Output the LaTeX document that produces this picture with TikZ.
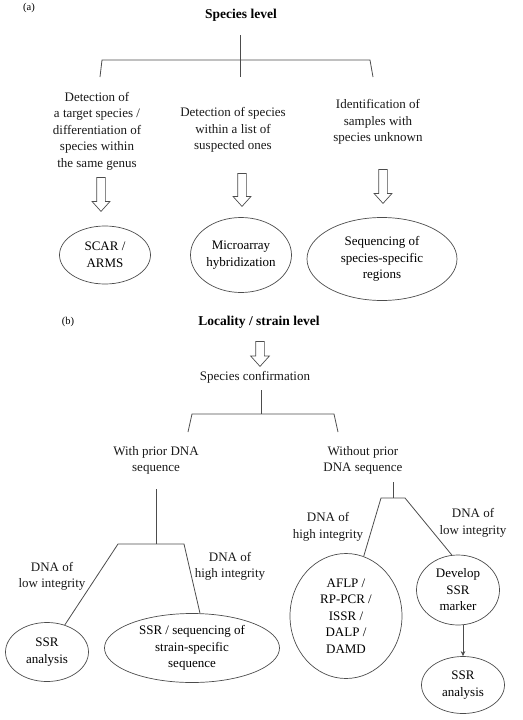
\documentclass[tikz,border=0pt]{standalone}
\usepackage{fontspec}
\setmainfont{Liberation Serif}
\usetikzlibrary{shapes.geometric,shapes.arrows,arrows.meta}

\begin{document}
\begin{tikzpicture}[x=1pt, y=-1pt,
        txt/.style={align=center, inner sep=0pt, text=black!90, font=\fontsize{13}{16.5}\selectfont},
        head/.style={inner sep=0pt, font=\fontsize{13.5}{16}\selectfont\bfseries},
        tag/.style={inner sep=0pt, font=\fontsize{10.5}{12}\selectfont},
        oval/.style={draw=black!70, line width=0.7pt, ellipse, inner sep=0pt, align=center, font=\fontsize{13}{16.5}\selectfont},
        hollow/.style={draw=black!70, line width=0.7pt, single arrow, shape border rotate=270, inner sep=4pt,
            single arrow head extend=4.5, single arrow tip angle=84},
        tree/.style={draw=black!70, line width=0.8pt}]
        \useasboundingbox (0,0) rectangle (522,720);

        % Nodes, part (a)
        \node (tag_a) [tag] at (29,8) {(a)};
        \node (species) [head] at (241,15) {Species level};
        \node (target) [txt] at (97,131) {Detection of\\a target species /\\differentiation of\\species within\\the same genus};
        \node (list) [txt] at (233,130) {Detection of species\\within a list of\\suspected ones};
        \node (unknown) [txt] at (378,122) {Identification of\\samples with\\species unknown};
        \node (arr_target) [hollow, minimum height=34] at (101,192) {};
        \node (arr_list) [hollow, minimum height=33] at (242,187.5) {};
        \node (arr_unknown) [hollow, minimum height=34] at (383,184) {};
        \node (scar) [oval, minimum width=91, minimum height=58] at (105,255) {SCAR /\\ARMS};
        \node (micro) [oval, minimum width=101, minimum height=75] at (241,255) {Microarray\\hybridization};
        \node (seqspec) [oval, minimum width=150, minimum height=83] at (382,259) {Sequencing of\\species-specific\\regions};

        % Nodes, part (b)
        \node (tag_b) [tag] at (68,322) {(b)};
        \node (locality) [head] at (259,322) {Locality / strain level};
        \node (arr_locality) [hollow, minimum height=25, single arrow head extend=5] at (260,351.5) {};
        \node (confirm) [txt] at (255,377) {Species confirmation};
        \node (withprior) [txt] at (156,460.5) {With prior DNA\\sequence};
        \node (noprior) [txt] at (363,460.5) {Without prior\\DNA sequence};
        \node (low_w) [txt] at (52,576.5) {DNA of\\low integrity};
        \node (high_w) [txt] at (230,566.5) {DNA of\\high integrity};
        \node (high_n) [txt] at (328,527) {DNA of\\high integrity};
        \node (low_n) [txt] at (473,523) {DNA of\\low integrity};
        \node (ssr_w) [oval, minimum width=83, minimum height=59] at (47,652) {SSR\\analysis};
        \node (strainseq) [oval, minimum width=175, minimum height=69] at (192,648) {SSR / sequencing of\\strain-specific\\sequence};
        \node (aflp) [oval, minimum width=112, minimum height=125] at (346,616) {AFLP /\\RP-PCR /\\ISSR /\\DALP /\\DAMD};
        \node (develop) [oval, minimum width=83, minimum height=70] at (458,590) {Develop\\SSR\\marker};
        \node (ssr_n) [oval, minimum width=83, minimum height=57] at (463,685) {SSR\\analysis};

        % Branch points
        \coordinate (a_top) at (240,35);
        \coordinate (a_bot) at (240,77);
        \coordinate (a_left) at (102,60);
        \coordinate (a_leftend) at (100,77);
        \coordinate (a_right) at (370,60);
        \coordinate (a_rightend) at (373,77);
        \coordinate (b_top) at (261,390);
        \coordinate (b_join) at (261,414);
        \coordinate (b_left) at (192,414);
        \coordinate (b_leftend) at (188,432);
        \coordinate (b_right) at (334,414);
        \coordinate (b_rightend) at (338,432);
        \coordinate (w_top) at (156,489);
        \coordinate (w_join) at (156,544);
        \coordinate (w_left) at (118,544);
        \coordinate (w_right) at (184,544);
        \coordinate (n_top) at (393,482);
        \coordinate (n_join) at (393,498);
        \coordinate (n_left) at (381,498);
        \coordinate (n_right) at (405,498);

        % Lines
        \draw [tree] (a_top) -- (a_bot);
        \draw [tree] (a_leftend) -- (a_left) -- (a_right) -- (a_rightend);
        \draw [tree] (b_top) -- (b_join);
        \draw [tree] (b_leftend) -- (b_left) -- (b_right) -- (b_rightend);
        \draw [tree] (w_top) -- (w_join);
        \draw [tree] (ssr_w) -- (w_left) -- (w_right) -- (strainseq.77);
        \draw [tree] (n_top) -- (n_join);
        \draw [tree] (aflp) -- (n_left) -- (n_right) -- (develop.100);
        \draw [tree, -{Stealth[length=5pt, width=4.5pt]}] (develop.south -| ssr_n.north) -- (ssr_n.north);
    \end{tikzpicture}
\end{document}
